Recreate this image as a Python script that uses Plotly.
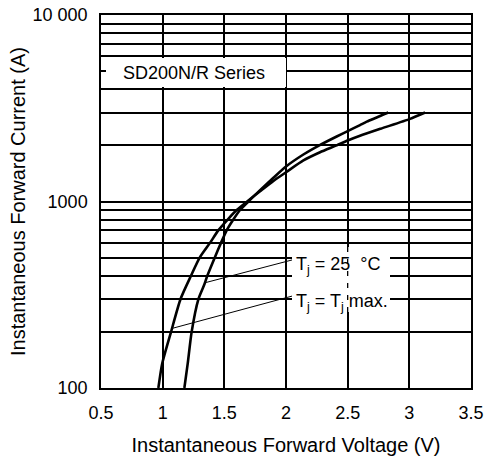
import plotly.graph_objects as go

# ---- data ----
tj25_v = [1.176, 1.203, 1.235, 1.290, 1.340, 1.362, 1.422, 1.473, 1.519, 1.573, 1.627, 1.695,
          1.79, 1.898, 2.0, 2.141, 2.27, 2.411, 2.5, 2.60, 2.655, 2.830]
tj25_i = [100, 135, 200, 300, 362, 400, 500, 600, 700, 800, 900, 1000,
          1150, 1340, 1540, 1786, 2000, 2232, 2384, 2570, 2680, 3000]

tjmax_v = [0.965, 0.996, 1.068, 1.145, 1.230, 1.300, 1.384, 1.451, 1.527, 1.600, 1.685,
           1.79, 1.898, 2.0, 2.141, 2.276, 2.411, 2.5, 2.60, 2.767, 3.006, 3.128]
tjmax_i = [100, 135, 200, 300, 400, 500, 600, 700, 800, 900, 1000,
           1135, 1290, 1435, 1660, 1837, 2000, 2122, 2250, 2455, 2773, 3000]

# leader lines (curve point -> label box)
leader25_v = [1.352, 2.065]
leader25_i = [368, 489]
leadermax_v = [1.068, 2.057]
leadermax_i = [208, 312]

x_ticks = [0.5, 1, 1.5, 2, 2.5, 3, 3.5]
y_tickvals = [100, 200, 300, 400, 500, 600, 700, 800, 900,
              1000, 2000, 3000, 4000, 5000, 6000, 7000, 8000, 9000, 10000]
y_ticktext = ["100", "", "", "", "", "", "", "", "",
              "1000", "", "", "", "", "", "", "", "", "10 000"]

FONT = "Liberation Sans, Arial, Helvetica, sans-serif"

fig = go.Figure()
for vv, ii in [(tj25_v, tj25_i), (tjmax_v, tjmax_i)]:
    fig.add_trace(go.Scatter(x=vv, y=ii, mode="lines",
                             line=dict(color="black", width=2.6, shape="spline", smoothing=0.6),
                             showlegend=False, hoverinfo="skip"))
for vv, ii in [(leader25_v, leader25_i), (leadermax_v, leadermax_i)]:
    fig.add_trace(go.Scatter(x=vv, y=ii, mode="lines",
                             line=dict(color="black", width=1), showlegend=False, hoverinfo="skip"))

L, R, T, B = 101, 15, 15, 70
W, H = 486, 458
PLOT_LEFT, PLOT_BOTTOM = L, H - B
PW, PH = W - L - R, H - T - B

def px(x):
    return (x - PLOT_LEFT) / PW

def py(y):
    return (PLOT_BOTTOM - y) / PH

shapes = [
    dict(type="rect", xref="paper", yref="paper", x0=px(106), x1=px(286), y0=py(87), y1=py(58),
         fillcolor="white", line=dict(width=0), layer="above"),
    dict(type="rect", xref="paper", yref="paper", x0=px(292), x1=px(390), y0=py(312), y1=py(247),
         fillcolor="white", line=dict(width=0), layer="above"),
    dict(type="line", xref="x", yref="paper", x0=2.5, x1=2.5, y0=py(312), y1=py(247),
         line=dict(color="black", width=1.3, dash="5px,7px"), layer="above"),
]

annotations = [
    dict(text="SD200N/R Series", xref="paper", yref="paper", x=px(121), y=py(73),
         xanchor="left", yanchor="middle", showarrow=False,
         font=dict(family=FONT, size=18, color="black")),
    dict(text="T<sub>j</sub> = 25\u00a0\u00a0°C", xref="paper", yref="paper", x=px(294), y=py(265),
         xanchor="left", yanchor="middle", showarrow=False,
         font=dict(family=FONT, size=18, color="black")),
    dict(text="T<sub>j</sub> = T<sub>j</sub> max.", xref="paper", yref="paper", x=px(294), y=py(302),
         xanchor="left", yanchor="middle", showarrow=False,
         font=dict(family=FONT, size=18, color="black")),
]

fig.update_layout(
    width=W, height=H,
    margin=dict(l=L, r=R, t=T, b=B, pad=0, autoexpand=False),
    paper_bgcolor="white", plot_bgcolor="white",
    font=dict(family=FONT, size=18, color="black"),
    shapes=shapes, annotations=annotations,
    xaxis=dict(range=[0.5, 3.5], tickvals=x_ticks, ticktext=[str(v) for v in x_ticks],
               showgrid=True, gridcolor="black", gridwidth=1.5,
               showline=True, linecolor="black", linewidth=1.5, mirror=True,
               zeroline=False, ticks="", ticklabelstandoff=8, automargin=False,
               ticklabeloverflow="allow",
               tickfont=dict(size=18),
               title=dict(text="Instantaneous Forward Voltage (V)", font=dict(size=20), standoff=16)),
    yaxis=dict(type="log", range=[2, 4], tickvals=y_tickvals, ticktext=y_ticktext,
               showgrid=True, gridcolor="black", gridwidth=2,
               showline=True, linecolor="black", linewidth=1.5, mirror=True,
               zeroline=False, ticks="", ticklabelstandoff=8, automargin=False,
               ticklabeloverflow="allow",
               tickfont=dict(size=18),
               title=dict(text="Instantaneous Forward Current (A)", font=dict(size=20), standoff=2)),
)

fig.write_html("out.html",
               config={"displayModeBar": False},
               post_script="document.body.style.margin='0';document.body.style.overflow='hidden';")
